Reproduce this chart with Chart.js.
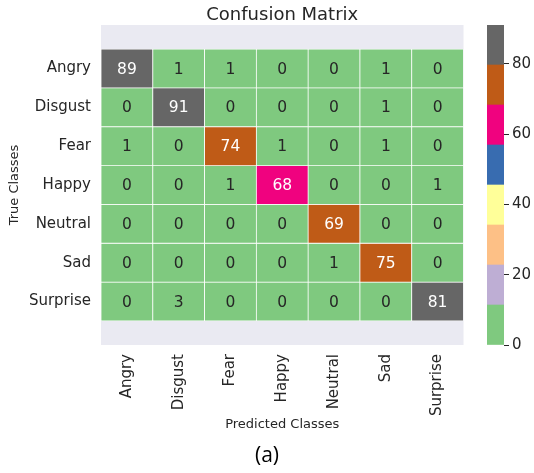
<!DOCTYPE html>
<html>
<head>
<meta charset="utf-8">
<script src="https://cdn.jsdelivr.net/npm/chart.js@4/dist/chart.umd.min.js"></script>
<style>
  html, body { margin: 0; padding: 0; background: #ffffff; }
  #wrap { position: relative; width: 534px; height: 473px; }
  #main { position: absolute; left: 0; top: 0; }
  #cbar { position: absolute; left: 480px; top: 0; }
</style>
</head>
<body>
<div id="wrap">
  <canvas id="main" width="534" height="473"></canvas>
  <canvas id="cbar" width="54" height="473"></canvas>
</div>
<script>
// ---- data ----
const predictedClasses = ['Angry', 'Disgust', 'Fear', 'Happy', 'Neutral', 'Sad', 'Surprise'];
const trueClasses = ['Angry', 'Disgust', 'Fear', 'Happy', 'Neutral', 'Sad', 'Surprise'];
const rowAngry    = [89, 1, 1, 0, 0, 1, 0];
const rowDisgust  = [0, 91, 0, 0, 0, 1, 0];
const rowFear     = [1, 0, 74, 1, 0, 1, 0];
const rowHappy    = [0, 0, 1, 68, 0, 0, 1];
const rowNeutral  = [0, 0, 0, 0, 69, 0, 0];
const rowSad      = [0, 0, 0, 0, 1, 75, 0];
const rowSurprise = [0, 3, 0, 0, 0, 0, 81];
const colorbarTicks = [0, 20, 40, 60, 80];

const rows = [rowAngry, rowDisgust, rowFear, rowHappy, rowNeutral, rowSad, rowSurprise];
const vmin = 0;
const vmax = Math.max(...rows.flat());
const accent = ['#7fc97f', '#beaed4', '#fdc086', '#ffff99', '#386cb0', '#f0027f', '#bf5b17', '#666666'];
const FONT = "'DejaVu Sans'";
const TXT = '#262626';

function colorFor(v) {
  const k = Math.min(accent.length - 1, Math.floor((v - vmin) / (vmax - vmin) * accent.length));
  return accent[k];
}
function textColorFor(v) {
  const c = colorFor(v);
  const r = parseInt(c.slice(1, 3), 16) / 255, g = parseInt(c.slice(3, 5), 16) / 255, b = parseInt(c.slice(5, 7), 16) / 255;
  const lin = x => x <= 0.03928 ? x / 12.92 : Math.pow((x + 0.055) / 1.055, 2.4);
  const L = 0.2126 * lin(r) + 0.7152 * lin(g) + 0.0722 * lin(b);
  return L > 0.408 ? TXT : '#ffffff';
}

const datasets = rows.map((row, r) => ({
  label: trueClasses[r],
  data: row.map(() => [r, r + 1]),
  counts: row,
  backgroundColor: row.map(colorFor),
  borderColor: '#ffffff',
  borderWidth: 0.75,
  borderSkipped: false,
  barPercentage: 1,
  categoryPercentage: 1,
  grouped: false
}));

const bandPlugin = {
  id: 'band',
  beforeDatasetsDraw(chart) {
    const a = chart.chartArea, ctx = chart.ctx;
    ctx.save();
    ctx.fillStyle = '#eaeaf2';
    ctx.fillRect(a.left, a.top, a.right - a.left, a.bottom - a.top);
    ctx.restore();
  }
};
const annotPlugin = {
  id: 'annot',
  afterDatasetsDraw(chart) {
    const ctx = chart.ctx;
    ctx.save();
    ctx.font = '15.5px ' + FONT;
    ctx.textAlign = 'center';
    ctx.textBaseline = 'middle';
    chart.data.datasets.forEach((ds, di) => {
      const meta = chart.getDatasetMeta(di);
      meta.data.forEach((el, i) => {
        const v = ds.counts[i];
        ctx.fillStyle = textColorFor(v);
        ctx.fillText(String(v), el.x, (el.y + el.base) / 2 + 1);
      });
    });
    ctx.restore();
  }
};

new Chart(document.getElementById('main'), {
  type: 'bar',
  data: { labels: predictedClasses, datasets },
  plugins: [bandPlugin, annotPlugin],
  options: {
    responsive: false,
    animation: false,
    devicePixelRatio: 1,
    layout: { padding: { left: 0, right: 0, top: 0, bottom: 0 } },
    plugins: {
      legend: { display: false },
      tooltip: { enabled: false },
      title: {
        display: true, text: 'Confusion Matrix', color: TXT, fullSize: false,
        font: { family: FONT, size: 18, weight: 'normal', lineHeight: 1 },
        padding: { top: 6, bottom: 1 }
      },
      subtitle: {
        display: true, text: '(a)', position: 'bottom', color: '#000000', fullSize: true,
        font: { family: "'Open Sans'", size: 21, weight: 'normal', lineHeight: 1.2 },
        padding: { top: 8, bottom: 4.4 }
      }
    },
    scales: {
      x: {
        type: 'category',
        offset: true,
        grid: { display: false, drawTicks: false },
        border: { display: false },
        ticks: { color: TXT, font: { family: FONT, size: 15 }, minRotation: 90, maxRotation: 90, padding: 9, autoSkip: false },
        title: { display: true, text: 'Predicted Classes', color: TXT, font: { family: FONT, size: 13 }, padding: { top: 0, bottom: 3 } },
        afterFit(scale) { scale.height = 90.4; }
      },
      y: {
        type: 'linear',
        reverse: true,
        min: -0.62,
        max: 7.62,
        grid: { display: false, drawTicks: false },
        border: { display: false },
        afterBuildTicks(scale) { scale.ticks = trueClasses.map((_, i) => ({ value: i + 0.5 })); },
        ticks: {
          color: TXT, font: { family: FONT, size: 15 }, padding: 10, autoSkip: false,
          callback: (v) => trueClasses[Math.floor(v)]
        },
        title: { display: true, text: 'True Classes', color: TXT, font: { family: FONT, size: 13 }, padding: { top: 7, bottom: 0 } },
        afterFit(scale) { scale.width = 101; }
      },
      gutter: {
        type: 'linear',
        position: 'right',
        grid: { display: false, drawTicks: false },
        border: { display: false },
        ticks: { display: false },
        afterFit(scale) { scale.width = 70.5; }
      }
    }
  }
});

// ---- colorbar ----
const nBands = accent.length;
const cbDatasets = accent.map((c, k) => ({
  data: [[vmin + k * (vmax - vmin) / nBands, vmin + (k + 1) * (vmax - vmin) / nBands]],
  backgroundColor: c,
  borderWidth: 0,
  barPercentage: 1,
  categoryPercentage: 1,
  grouped: false
}));
new Chart(document.getElementById('cbar'), {
  type: 'bar',
  data: { labels: [''], datasets: cbDatasets },
  options: {
    responsive: false,
    animation: false,
    devicePixelRatio: 1,
    layout: { padding: { left: 7, right: 0, top: 25, bottom: 128 } },
    plugins: { legend: { display: false }, tooltip: { enabled: false } },
    scales: {
      x: { display: false, offset: true },
      y: {
        type: 'linear', position: 'right', min: vmin, max: vmax,
        border: { display: false },
        grid: { drawOnChartArea: false, drawTicks: true, tickLength: 5, color: TXT, lineWidth: 1 },
        afterBuildTicks(scale) { scale.ticks = colorbarTicks.map(v => ({ value: v })); },
        ticks: { color: TXT, font: { family: FONT, size: 15 }, padding: 3 },
        afterFit(scale) { scale.width = 30; }
      }
    }
  }
});
</script>
</body>
</html>
